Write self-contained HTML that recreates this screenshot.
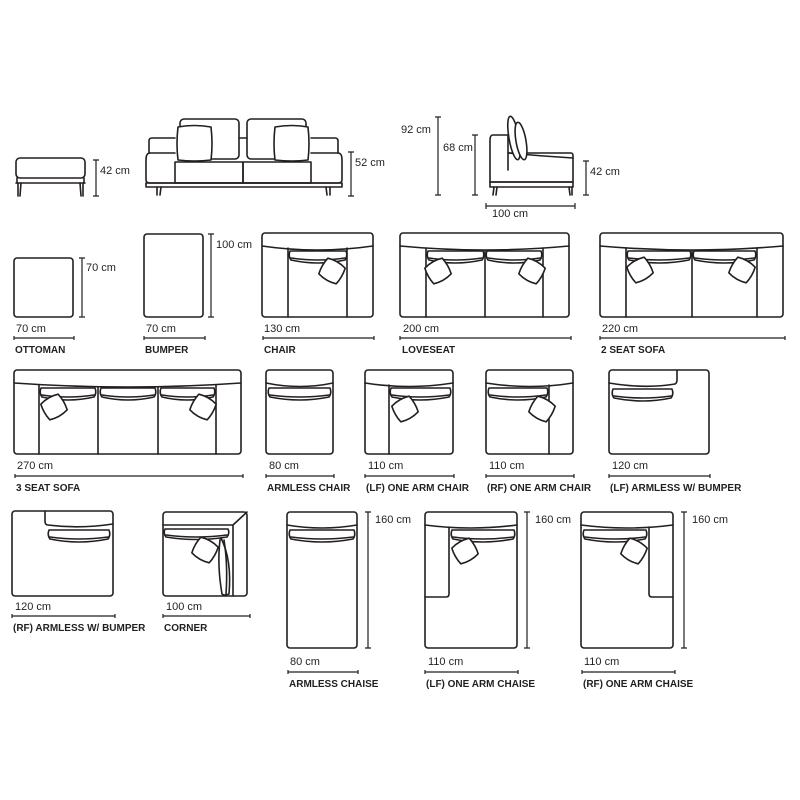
<!DOCTYPE html>
<html><head><meta charset="utf-8"><style>
html,body{margin:0;padding:0;background:#fff}
svg{display:block}
.s{fill:none;stroke:#231f20;stroke-width:1.6;stroke-linejoin:round;stroke-linecap:round}
.w{fill:#fff;stroke:#231f20;stroke-width:1.6;stroke-linejoin:round}
.d{stroke:#231f20;stroke-width:1.2;fill:none}
.t{font-family:"Liberation Sans",sans-serif;font-size:11px;fill:#231f20}
.n{font-family:"Liberation Sans",sans-serif;font-size:10px;font-weight:bold;fill:#231f20}
</style></head><body>
<svg width="800" height="800" viewBox="0 0 800 800" xmlns="http://www.w3.org/2000/svg">
<defs>
<g id="pl"><path class="w" d="M-10,-9 Q0,-12 10,-9 Q12,0 10,9 Q0,12 -10,9 Q-12,0 -10,-9Z"/></g>
</defs>

<!-- TOP ROW: ottoman -->
<rect class="s" x="16" y="158" width="69" height="20" rx="4"/>
<line class="s" x1="16" y1="183" x2="85" y2="183"/>
<line class="s" x1="17" y1="178" x2="17" y2="183"/><line class="s" x1="84" y1="178" x2="84" y2="183"/>
<path class="s" d="M18,183 L18,196 M21,183 L20,196 M80,183 L81,196 M83,183 L83,196"/>
<path class="d" d="M96,160 V196 M93,160 H99 M93,196 H99"/>
<text class="t" x="100" y="174">42 cm</text>

<!-- sofa front -->
<rect class="s" x="180" y="119" width="59" height="40" rx="4"/>
<rect class="s" x="247" y="119" width="59" height="40" rx="4"/>
<line class="s" x1="239" y1="138" x2="247" y2="138"/>
<path class="s" d="M149,153 V141 Q149,138 152,138 H175 M311,138 H335 Q338,138 338,141 V153"/>
<path class="s" d="M175,153 H150 Q146,153 146,160 V180 Q146,183 150,183 H338 Q342,183 342,180 V160 Q342,153 338,153 H311"/>
<rect class="s" x="175" y="162" width="68" height="21"/>
<rect class="s" x="243" y="162" width="68" height="21"/>
<path class="w" d="M178,127 Q194,124 211,127 Q213,144 211,160 Q194,162 178,160 Q176,144 178,127Z"/>
<path class="w" d="M275,127 Q292,124 308,127 Q310,144 308,160 Q292,162 275,160 Q273,144 275,127Z"/>
<rect class="s" x="146" y="183" width="196" height="4"/>
<path class="s" d="M157,187 L157,195 M161,187 L160,195 M326,187 L327,195 M330,187 L330,195"/>
<path class="d" d="M351,152 V196 M348,152 H354 M348,196 H354"/>
<text class="t" x="355" y="166">52 cm</text>

<!-- side view -->
<path class="s" d="M508,135 H493 Q490,135 490,140 V182"/>
<path class="s" d="M508,135 V170 M508,153 H571 Q573,153 573,156 V182 H490"/>
<path class="s" d="M508,153 Q540,156 573,158"/>
<rect class="s" x="490" y="182" width="83" height="5"/>
<path class="s" d="M494,187 L493,195 M497,187 L496,195 M569,187 L570,195 M572,187 L572,195"/>
<ellipse class="w" cx="514" cy="138" rx="5" ry="22" transform="rotate(-10 514 138)"/>
<ellipse class="w" cx="521" cy="141" rx="5" ry="19" transform="rotate(-10 521 141)"/>
<path class="d" d="M438,117 V195 M435,117 H441 M435,195 H441"/>
<text class="t" x="401" y="133">92 cm</text>
<path class="d" d="M475,135 V195 M472,135 H478 M472,195 H478"/>
<text class="t" x="443" y="151">68 cm</text>
<path class="d" d="M586,161 V195 M583,161 H589 M583,195 H589"/>
<text class="t" x="590" y="175">42 cm</text>
<path class="d" d="M486,206 H575 M486,203 V209 M575,203 V209"/>
<text class="t" x="492" y="217">100 cm</text>

<!-- ROW 2 -->
<rect class="s" x="14" y="258" width="59" height="59" rx="3"/>
<path class="d" d="M82,258 V317 M79,258 H85 M79,317 H85"/>
<text class="t" x="86" y="271">70 cm</text>
<text class="t" x="16" y="332">70 cm</text>
<path class="d" d="M14,338 H74 M14,336 V340 M74,336 V340"/>
<text class="n" x="15" y="353">OTTOMAN</text>

<rect class="s" x="144" y="234" width="59" height="83" rx="3"/>
<path class="d" d="M211,234 V317 M208,234 H214 M208,317 H214"/>
<text class="t" x="216" y="248">100 cm</text>
<text class="t" x="146" y="332">70 cm</text>
<path class="d" d="M144,338 H205 M144,336 V340 M205,336 V340"/>
<text class="n" x="145" y="353">BUMPER</text>

<!-- chair -->
<rect class="s" x="262" y="233" width="111" height="84" rx="3"/>
<path class="s" d="M262,246 Q317,254 373,246"/>
<path class="s" d="M288,248 V317 M347,248 V317"/>
<path class="w" d="M290,251 H346 Q348,256 345,260 Q318,266 291,260 Q288,256 290,251Z"/><path class="s" d="M291,258 Q318,262 345,258"/>
<use href="#pl" transform="translate(332,271) rotate(30)"/>
<text class="t" x="264" y="332">130 cm</text>
<path class="d" d="M263,338 H374 M263,336 V340 M374,336 V340"/>
<text class="n" x="264" y="353">CHAIR</text>

<!-- loveseat -->
<rect class="s" x="400" y="233" width="169" height="84" rx="3"/>
<path class="s" d="M400,246 Q485,254 569,246"/>
<path class="s" d="M426,248 V317 M485,250 V317 M543,248 V317"/>
<path class="w" d="M428,251 H483 Q485,256 482,260 Q455,266 429,260 Q426,256 428,251Z"/><path class="s" d="M429,258 Q455,262 482,258"/>
<path class="w" d="M487,251 H541 Q543,256 540,260 Q514,266 488,260 Q485,256 487,251Z"/><path class="s" d="M488,258 Q514,262 540,258"/>
<use href="#pl" transform="translate(438,271) rotate(-30)"/>
<use href="#pl" transform="translate(532,271) rotate(30)"/>
<text class="t" x="403" y="332">200 cm</text>
<path class="d" d="M400,338 H571 M400,336 V340 M571,336 V340"/>
<text class="n" x="402" y="353">LOVESEAT</text>

<!-- 2 seat -->
<rect class="s" x="600" y="233" width="183" height="84" rx="3"/>
<path class="s" d="M600,246 Q692,254 783,246"/>
<path class="s" d="M626,248 V317 M692,250 V317 M757,248 V317"/>
<path class="w" d="M628,251 H690 Q692,256 689,260 Q659,266 629,260 Q626,256 628,251Z"/><path class="s" d="M629,258 Q659,262 689,258"/>
<path class="w" d="M694,251 H755 Q757,256 754,260 Q724,266 695,260 Q692,256 694,251Z"/><path class="s" d="M695,258 Q724,262 754,258"/>
<use href="#pl" transform="translate(640,270) rotate(-30)"/>
<use href="#pl" transform="translate(742,270) rotate(30)"/>
<text class="t" x="602" y="332">220 cm</text>
<path class="d" d="M600,338 H785 M600,336 V340 M785,336 V340"/>
<text class="n" x="601" y="353">2 SEAT SOFA</text>

<!-- ROW 3: 3 seat -->
<rect class="s" x="14" y="370" width="227" height="84" rx="3"/>
<path class="s" d="M14,383 Q128,391 241,383"/>
<path class="s" d="M39,385 V454 M98,387 V454 M158,387 V454 M216,385 V454"/>
<path class="w" d="M41,388 H95 Q97,393 94,397 Q68,403 42,397 Q39,393 41,388Z"/><path class="s" d="M42,395 Q68,399 94,395"/>
<path class="w" d="M101,388 H155 Q157,393 154,397 Q128,403 102,397 Q99,393 101,388Z"/><path class="s" d="M102,395 Q128,399 154,395"/>
<path class="w" d="M161,388 H214 Q216,393 213,397 Q187,403 162,397 Q159,393 161,388Z"/><path class="s" d="M162,395 Q187,399 213,395"/>
<use href="#pl" transform="translate(54,407) rotate(-30)"/>
<use href="#pl" transform="translate(203,407) rotate(30)"/>
<text class="t" x="17" y="469">270 cm</text>
<path class="d" d="M15,476 H243 M15,474 V478 M243,474 V478"/>
<text class="n" x="16" y="491">3 SEAT SOFA</text>

<!-- armless chair -->
<rect class="s" x="266" y="370" width="67" height="84" rx="3"/>
<path class="s" d="M266,383 Q300,390 333,383"/>
<path class="w" d="M269,388 H330 Q332,393 329,397 Q300,403 270,397 Q267,393 269,388Z"/><path class="s" d="M270,395 Q300,399 329,395"/>
<text class="t" x="269" y="469">80 cm</text>
<path class="d" d="M266,476 H334 M266,474 V478 M334,474 V478"/>
<text class="n" x="267" y="491">ARMLESS CHAIR</text>

<!-- LF one arm chair -->
<rect class="s" x="365" y="370" width="88" height="84" rx="3"/>
<path class="s" d="M365,383 Q409,390 453,383"/>
<path class="s" d="M389,385 V454"/>
<path class="w" d="M391,388 H450 Q452,393 449,397 Q420,403 392,397 Q389,393 391,388Z"/><path class="s" d="M392,395 Q420,399 449,395"/>
<use href="#pl" transform="translate(405,409) rotate(-30)"/>
<text class="t" x="368" y="469">110 cm</text>
<path class="d" d="M365,476 H454 M365,474 V478 M454,474 V478"/>
<text class="n" x="366" y="491">(LF) ONE ARM CHAIR</text>

<!-- RF one arm chair -->
<rect class="s" x="486" y="370" width="87" height="84" rx="3"/>
<path class="s" d="M486,383 Q530,390 573,383"/>
<path class="s" d="M549,385 V454"/>
<path class="w" d="M489,388 H547 Q549,393 546,397 Q518,403 490,397 Q487,393 489,388Z"/><path class="s" d="M490,395 Q518,399 546,395"/>
<use href="#pl" transform="translate(542,409) rotate(30)"/>
<text class="t" x="489" y="469">110 cm</text>
<path class="d" d="M486,476 H574 M486,474 V478 M574,474 V478"/>
<text class="n" x="487" y="491">(RF) ONE ARM CHAIR</text>

<!-- LF armless w bumper -->
<rect class="s" x="609" y="370" width="100" height="84" rx="3"/>
<path class="s" d="M609,383 Q645,389 675,384 Q677,383 677,380 V370"/>
<path class="w" d="M613,389 H672 Q674,394 671,398 Q643,404 614,398 Q611,394 613,389Z"/><path class="s" d="M614,396 Q643,400 671,396"/>
<text class="t" x="612" y="469">120 cm</text>
<path class="d" d="M609,476 H710 M609,474 V478 M710,474 V478"/>
<text class="n" x="610" y="491">(LF) ARMLESS W/ BUMPER</text>

<!-- ROW 4: RF armless w bumper -->
<rect class="s" x="12" y="511" width="101" height="85" rx="3"/>
<path class="s" d="M45,511 V521 Q45,525 48,525 Q80,529 113,524"/>
<path class="w" d="M49,530 H109 Q111,535 108,539 Q79,545 50,539 Q47,535 49,530Z"/><path class="s" d="M50,537 Q79,541 108,537"/>
<text class="t" x="15" y="610">120 cm</text>
<path class="d" d="M12,616 H115 M12,614 V618 M115,614 V618"/>
<text class="n" x="13" y="631">(RF) ARMLESS W/ BUMPER</text>

<!-- corner -->
<rect class="s" x="163" y="512" width="84" height="84" rx="3"/>
<path class="s" d="M163,525 H233 L247,512 M233,525 V596"/>
<path class="w" d="M165,529 H228 Q230,533 227,537 Q196,542 166,537 Q163,533 165,529Z"/><path class="s" d="M166,535 Q196,539 227,535"/>
<path class="w" d="M221,538 Q232,560 229,594 Q224,596 222,594 Q217,565 220,540Z"/><path class="s" d="M224,540 Q228,565 226,594"/>
<use href="#pl" transform="translate(205,550) rotate(30)"/>
<text class="t" x="166" y="610">100 cm</text>
<path class="d" d="M163,616 H250 M163,614 V618 M250,614 V618"/>
<text class="n" x="164" y="631">CORNER</text>

<!-- armless chaise -->
<rect class="s" x="287" y="512" width="70" height="136" rx="3"/>
<path class="s" d="M287,525 Q322,531 357,525"/>
<path class="w" d="M290,530 H354 Q356,535 353,539 Q322,545 291,539 Q288,535 290,530Z"/><path class="s" d="M291,537 Q322,541 353,537"/>
<path class="d" d="M368,512 V648 M365,512 H371 M365,648 H371"/>
<text class="t" x="375" y="523">160 cm</text>
<text class="t" x="290" y="665">80 cm</text>
<path class="d" d="M288,672 H358 M288,670 V674 M358,670 V674"/>
<text class="n" x="289" y="687">ARMLESS CHAISE</text>

<!-- LF chaise -->
<rect class="s" x="425" y="512" width="92" height="136" rx="3"/>
<path class="s" d="M425,525 Q471,531 517,525"/>
<path class="s" d="M449,527 V594 Q449,597 446,597 H425"/>
<path class="w" d="M452,530 H514 Q516,535 513,539 Q483,545 453,539 Q450,535 452,530Z"/><path class="s" d="M453,537 Q483,541 513,537"/>
<use href="#pl" transform="translate(465,551) rotate(-30)"/>
<path class="d" d="M527,512 V648 M524,512 H530 M524,648 H530"/>
<text class="t" x="535" y="523">160 cm</text>
<text class="t" x="428" y="665">110 cm</text>
<path class="d" d="M425,672 H518 M425,670 V674 M518,670 V674"/>
<text class="n" x="426" y="687">(LF) ONE ARM CHAISE</text>

<!-- RF chaise -->
<rect class="s" x="581" y="512" width="92" height="136" rx="3"/>
<path class="s" d="M581,525 Q627,531 673,525"/>
<path class="s" d="M649,527 V594 Q649,597 652,597 H673"/>
<path class="w" d="M584,530 H646 Q648,535 645,539 Q615,545 585,539 Q582,535 584,530Z"/><path class="s" d="M585,537 Q615,541 645,537"/>
<use href="#pl" transform="translate(634,551) rotate(30)"/>
<path class="d" d="M684,512 V648 M681,512 H687 M681,648 H687"/>
<text class="t" x="692" y="523">160 cm</text>
<text class="t" x="584" y="665">110 cm</text>
<path class="d" d="M582,672 H675 M582,670 V674 M675,670 V674"/>
<text class="n" x="583" y="687">(RF) ONE ARM CHAISE</text>
</svg>
</body></html>
